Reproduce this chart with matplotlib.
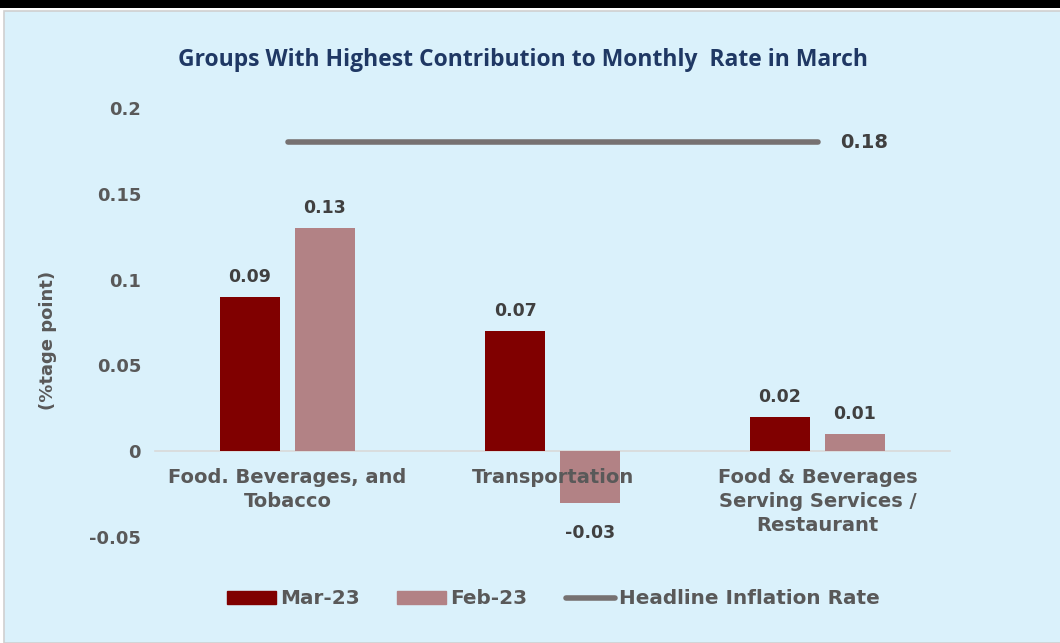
import matplotlib.pyplot as plt
import matplotlib.patches as mpatches
from matplotlib.lines import Line2D
import numpy as np

# --- DATA ---
categories = ["Food. Beverages, and\nTobacco", "Transportation",
              "Food & Beverages\nServing Services /\nRestaurant"]
mar_23 = [0.09, 0.07, 0.02]
feb_23 = [0.13, -0.03, 0.01]
headline = 0.18
series_names = ["Mar-23", "Feb-23", "Headline Inflation Rate"]

# --- STYLE ---
BG = "#daf1fb"
MAR_C = "#800000"
FEB_C = "#b28285"
LINE_C = "#767171"
TICK_C = "#595959"
LABEL_C = "#404040"
TITLE_C = "#1f3864"
plt.rcParams['font.family'] = ['DejaVu Sans']
plt.rcParams['font.weight'] = 'bold'

fig = plt.figure(figsize=(10.6, 6.43), dpi=100, facecolor="white")

# panel background and top black strip
fig.patches.append(mpatches.Rectangle((0, 1 - 8/643), 1, 8/643, transform=fig.transFigure,
                                      facecolor="black", edgecolor="none", zorder=-10))
fig.patches.append(mpatches.Rectangle((4/1060, 0), 1.0, 1 - 11/643, transform=fig.transFigure,
                                      facecolor=BG, edgecolor="#d0d0d0", linewidth=1.2, zorder=-10))

ax = fig.add_axes([155/1060, 1 - 537/643, 795/1060, 429/643])
ax.set_zorder(2)
ax.set_facecolor("none")

x = np.arange(len(categories))
w = 0.223
off = 0.1415
b1 = ax.bar(x - off, mar_23, w, color=MAR_C, zorder=3)
b2 = ax.bar(x + off, feb_23, w, color=FEB_C, zorder=3)

ax.plot([x[0], x[-1]], [headline, headline], color=LINE_C, lw=4, solid_capstyle='round', zorder=3)
ax.annotate(f"{headline:.2f}", xy=(x[-1], headline), xytext=(16, 0), textcoords="offset points",
            ha="left", va="center", fontsize=14, color=LABEL_C, fontweight="bold")

for bars, vals in ((b1, mar_23), (b2, feb_23)):
    for rect, v in zip(bars, vals):
        cx = rect.get_x() + rect.get_width() / 2
        if v >= 0:
            ax.annotate(f"{v:.2f}", xy=(cx, v), xytext=(0, 8), textcoords="offset points",
                        ha="center", va="bottom", fontsize=12.5, color=LABEL_C, fontweight="bold")
        else:
            ax.annotate(f"{v:.2f}", xy=(cx, v), xytext=(0, -15), textcoords="offset points",
                        ha="center", va="top", fontsize=12.5, color=LABEL_C, fontweight="bold")

ax.set_xlim(-0.5, 2.5)
ax.set_ylim(-0.05, 0.2)
ax.set_yticks([-0.05, 0, 0.05, 0.1, 0.15, 0.2])
ax.set_yticklabels(["-0.05", "0", "0.05", "0.1", "0.15", "0.2"])
ax.tick_params(axis="y", length=0, pad=10, labelsize=13, labelcolor=TICK_C)

ax.spines['bottom'].set_position(('data', 0))
ax.spines['bottom'].set_color("#d9d9d9")
ax.spines['bottom'].set_linewidth(1.2)
for s in ("top", "right", "left"):
    ax.spines[s].set_visible(False)
ax.set_xticks(x)
ax.set_xticklabels(categories, fontsize=14, color=TICK_C, linespacing=1.35)
ax.tick_params(axis="x", length=0, pad=12)
ax.xaxis.set_zorder(5)

ax.set_ylabel("(%tage point)", fontsize=13, color=TICK_C, fontweight="bold")
ax.yaxis.set_label_coords(-0.123, 0.459)

fig.text(0.493, 1 - 60/643, "Groups With Highest Contribution to Monthly  Rate in March",
         ha="center", va="center", fontsize=16.5, color=TITLE_C, fontweight="bold",
         family=["Open Sans", "DejaVu Sans"])

handles = [mpatches.Patch(color=MAR_C), mpatches.Patch(color=FEB_C),
           Line2D([0], [0], color=LINE_C, lw=4, solid_capstyle='round')]
leg = fig.legend(handles, series_names, loc="center", bbox_to_anchor=(553/1060, 1 - 599/643),
                 ncol=3, frameon=False, handlelength=2.45, handleheight=0.6, columnspacing=1.9,
                 handletextpad=0.2,
                 prop={"family": ["DejaVu Sans"], "weight": "bold", "size": 14.4})
for t in leg.get_texts():
    t.set_color(TICK_C)

fig.savefig("out.png", dpi=100, facecolor="white")
